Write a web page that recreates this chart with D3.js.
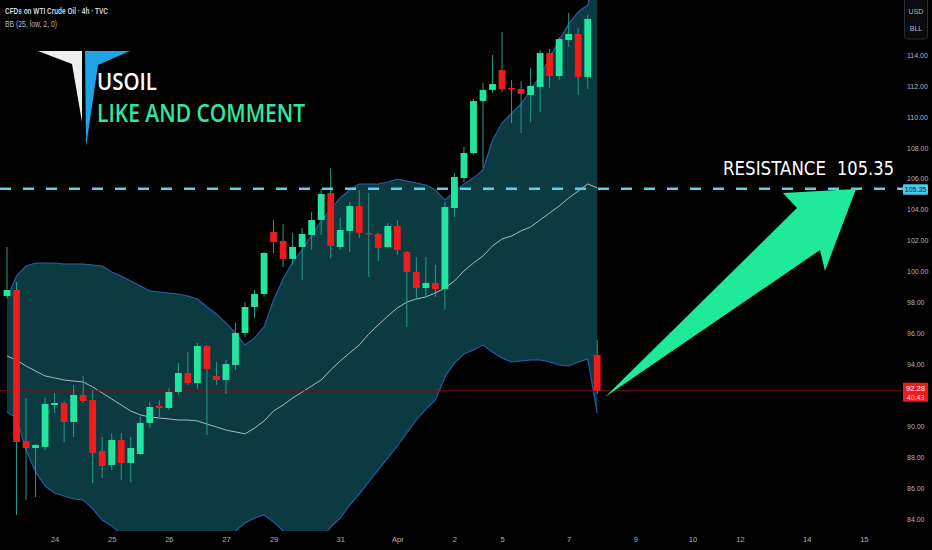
<!DOCTYPE html>
<html>
<head>
<meta charset="utf-8">
<script src="https://cdn.jsdelivr.net/npm/d3@7"></script>
<style>
  html, body { margin: 0; padding: 0; background: #000; }
  #d3-container { width: 932px; height: 550px; }
</style>
</head>
<body>
<div id="d3-container"></div>
<script>
// 4h candles, CFDs on WTI Crude Oil (TVC)
const open  = [98.41, 98.80, 89.03, 88.58, 88.65, 91.36, 91.49, 90.26, 92.01, 91.68,
               88.39, 87.48, 89.10, 87.61, 88.19, 90.20, 91.30, 91.17, 92.20, 93.43,
               92.78, 95.18, 93.24, 92.98, 93.95, 96.02, 97.70, 98.54, 102.55, 101.97,
               100.81, 101.58, 102.36, 103.33, 105.07, 101.58, 102.62, 104.23, 102.49, 102.42,
               101.58, 102.94, 101.26, 99.96, 98.93, 99.25, 98.86, 104.10, 106.04, 107.66,
               111.02, 111.74, 113.03, 111.87, 111.80, 111.41, 111.93, 114.13, 112.64, 114.97,
               115.36, 112.58, 94.60];
const high  = [101.58, 99.32, 91.81, 88.84, 91.81, 92.14, 91.62, 92.66, 93.24, 92.33,
               89.29, 89.55, 89.55, 89.29, 90.59, 91.56, 91.68, 92.46, 94.08, 94.79,
               95.37, 95.24, 94.14, 94.27, 96.67, 98.02, 98.80, 101.26, 103.33, 103.07,
               102.49, 102.81, 103.85, 105.33, 106.69, 103.46, 104.49, 105.27, 105.07, 102.49,
               103.13, 103.33, 101.32, 100.93, 100.93, 100.42, 104.49, 106.37, 108.05, 111.15,
               112.19, 114.00, 115.49, 112.38, 112.32, 113.16, 114.32, 114.39, 115.16, 116.72,
               115.75, 116.59, 95.57];
const low   = [98.28, 84.25, 85.22, 85.41, 88.45, 90.84, 88.97, 89.29, 91.49, 86.32,
               86.64, 87.16, 86.51, 86.38, 88.13, 89.87, 90.59, 91.04, 92.01, 92.66,
               92.40, 89.42, 92.66, 92.07, 93.63, 95.76, 96.99, 98.35, 101.19, 100.29,
               100.42, 99.45, 101.39, 102.36, 100.87, 101.39, 101.26, 102.16, 99.64, 100.68,
               101.52, 101.07, 96.41, 98.15, 98.35, 98.35, 97.51, 103.52, 105.79, 107.60,
               106.69, 111.54, 111.61, 109.60, 108.95, 109.67, 110.31, 111.87, 112.38, 114.52,
               111.41, 111.80, 92.10];
const close = [98.80, 88.97, 88.58, 88.77, 91.43, 91.49, 90.26, 92.01, 91.62, 88.26,
               87.42, 89.10, 87.61, 88.58, 90.20, 91.23, 91.17, 92.20, 93.43, 92.78,
               95.18, 93.69, 92.98, 94.01, 96.02, 97.70, 98.54, 101.19, 101.90, 100.81,
               101.58, 102.42, 103.33, 105.01, 101.65, 102.68, 104.23, 102.49, 102.42, 101.52,
               102.94, 101.39, 99.96, 98.93, 99.25, 98.86, 104.17, 106.11, 107.66, 111.02,
               111.74, 112.12, 111.80, 111.80, 111.48, 112.00, 114.13, 112.64, 115.03, 115.36,
               112.58, 116.33, 92.28];

// BB (25, low, 2, 0)
const bbUpper = [98.28, 99.71, 100.35, 100.55, 100.55, 100.55, 100.48, 100.48, 100.48, 100.42,
                 100.35, 99.96, 99.71, 99.38, 99.06, 98.74, 98.67, 98.61, 98.54, 98.41,
                 98.22, 97.70, 97.25, 96.67, 96.02, 95.24, 95.70, 96.41, 98.15, 99.51,
                 100.61, 101.39, 102.36, 103.26, 104.04, 104.75, 105.27, 105.66, 105.66, 105.66,
                 105.79, 105.98, 105.85, 105.72, 105.59, 105.27, 104.62, 105.14, 105.66, 106.04,
                 106.56, 108.50, 109.60, 110.25, 110.83, 111.74, 112.64, 113.81, 114.97, 116.01,
                 116.78, 117.23, 119.95];
const bbBasis = [94.53, 94.27, 93.88, 93.56, 93.24, 93.11, 92.98, 92.91, 92.85, 92.53,
                 92.14, 91.75, 91.36, 90.97, 90.72, 90.59, 90.52, 90.46, 90.39, 90.39,
                 90.33, 90.13, 89.94, 89.74, 89.62, 89.49, 89.87, 90.33, 90.97, 91.36,
                 91.81, 92.20, 92.59, 92.98, 93.63, 94.21, 94.73, 95.24, 95.95, 96.54,
                 97.12, 97.64, 98.02, 98.22, 98.35, 98.61, 98.93, 99.38, 100.03, 100.55,
                 101.00, 101.65, 102.10, 102.29, 102.62, 102.88, 103.33, 103.78, 104.23, 104.75,
                 105.20, 105.66, 105.40];
const bbLower = [90.91, 90.52, 88.45, 87.03, 86.12, 85.67, 85.48, 85.28, 85.22, 84.64,
                 83.92, 83.54, 83.02, 82.57, 82.37, 82.43, 82.37, 82.31, 82.24, 82.37,
                 82.43, 82.57, 82.63, 82.82, 83.21, 83.73, 84.05, 84.25, 83.80, 83.21,
                 82.95, 83.02, 82.82, 82.69, 83.47, 84.05, 84.89, 85.60, 86.38, 87.16,
                 87.93, 88.71, 89.55, 90.39, 91.10, 91.69, 93.17, 94.08, 94.66, 94.92,
                 95.24, 94.79, 94.40, 94.14, 94.21, 94.27, 94.27, 94.14, 93.95, 93.88,
                 94.14, 94.34, 90.84];

// 92.00 sits under the last-price tag, so it is not shown
const priceTicks = [84, 86, 88, 90, 94, 96, 98, 100, 102, 104, 106, 108, 110, 112, 114];
const dayTickIdx = [5, 11, 17, 23, 28, 35, 41, 47, 52, 59, 66, 72, 77, 84, 90];
const dayTickLabels = ["24", "25", "26", "27", "29", "31", "Apr", "2", "5", "7", "9", "10", "12", "14", "15"];

const resistance = 105.35;
const lastPrice = 92.28;
const countdown = "40:43";
// hand-drawn arrow, in (bar index, price)
const arrowPts = [[62.82, 91.88], [82.98, 104.10], [81.51, 105.07], [89.18, 105.33], [85.92, 100.03], [85.40, 101.39]];

let width = 932,
  height = 550,
  plotW = 903,
  plotH = 531;

const svg = d3.select('#d3-container')
  .append('svg')
  .attr('width', width)
  .attr('height', height)
  .style('background-color', '#000')
  .style('font-family', '"Liberation Sans", Arial, sans-serif');

svg.append('defs').append('clipPath')
  .attr('id', 'plot-clip')
  .append('rect')
  .attr('x', 0).attr('y', 0)
  .attr('width', plotW).attr('height', plotH);

const xScale = d3.scaleLinear()
  .domain([0, 90])
  .range([7, 7 + 90 * 9.52]);

const yScale = d3.scaleLinear()
  .domain([84, 114])
  .range([518.8, 55]);

const idx = d3.range(open.length);
const plot = svg.append('g').attr('clip-path', 'url(#plot-clip)');

// bollinger band fill + lines
plot.append('path')
  .datum(idx)
  .attr('fill', '#0b3a41')
  .attr('d', d3.area()
    .x(i => xScale(i))
    .y0(i => yScale(bbLower[i]))
    .y1(i => yScale(bbUpper[i])));

[bbUpper, bbLower].forEach(series => {
  plot.append('path')
    .datum(idx)
    .attr('fill', 'none')
    .attr('stroke', '#2b5cab')
    .attr('stroke-width', 1.1)
    .attr('d', d3.line().x(i => xScale(i)).y(i => yScale(series[i])));
});

plot.append('path')
  .datum(idx)
  .attr('fill', 'none')
  .attr('stroke', '#a9bcc4')
  .attr('stroke-width', 1)
  .attr('d', d3.line().x(i => xScale(i)).y(i => yScale(bbBasis[i])));

// last price line
plot.append('line')
  .attr('x1', 0).attr('x2', plotW)
  .attr('y1', yScale(lastPrice)).attr('y2', yScale(lastPrice))
  .attr('stroke', '#7e1212')
  .attr('stroke-width', 1);

// candles
const candle = plot.selectAll('g.candle')
  .data(idx)
  .enter().append('g')
  .attr('class', 'candle');

candle.append('line')
  .attr('x1', i => xScale(i)).attr('x2', i => xScale(i))
  .attr('y1', i => yScale(high[i])).attr('y2', i => yScale(low[i]))
  .attr('stroke', '#249c8e')
  .attr('stroke-width', 1);

candle.append('rect')
  .attr('x', i => xScale(i) - 3.4)
  .attr('width', 6.8)
  .attr('y', i => yScale(Math.max(open[i], close[i])))
  .attr('height', i => Math.max(1.5, Math.abs(yScale(open[i]) - yScale(close[i]))))
  .attr('fill', i => close[i] >= open[i] ? '#22e6a0' : '#ee1c1c');

// resistance line
plot.append('line')
  .attr('x1', 0).attr('x2', plotW)
  .attr('y1', yScale(resistance)).attr('y2', yScale(resistance))
  .attr('stroke', '#56d3ea')
  .attr('stroke-width', 2.4)
  .attr('stroke-dasharray', '11,12');

// arrow
plot.append('polygon')
  .attr('points', arrowPts.map(p => [xScale(p[0]), yScale(p[1])].join(',')).join(' '))
  .attr('fill', '#1fea9c');

const resText = svg.append('text')
  .attr('y', 175)
  .attr('fill', '#fff')
  .attr('font-family', '"DejaVu Sans", sans-serif')
  .attr('font-size', 19);
resText.append('tspan')
  .attr('x', 723)
  .attr('textLength', 103)
  .attr('lengthAdjust', 'spacingAndGlyphs')
  .text('RESISTANCE');
resText.append('tspan')
  .attr('x', 837)
  .attr('textLength', 57)
  .attr('lengthAdjust', 'spacingAndGlyphs')
  .text(resistance.toFixed(2));

// price axis
const yAxis = svg.append('g')
  .attr('transform', `translate(${plotW + 1},0)`)
  .call(d3.axisRight(yScale).tickValues(priceTicks).tickSize(0).tickPadding(3).tickFormat(d3.format('.2f')));
yAxis.select('.domain').remove();
yAxis.selectAll('text')
  .attr('fill', '#b2b5be')
  .attr('font-size', 7)
  .attr('font-family', '"Liberation Sans", Arial, sans-serif');

// time axis
const xAxis = svg.append('g')
  .attr('transform', `translate(0,${plotH + 4})`)
  .call(d3.axisBottom(xScale).tickValues(dayTickIdx).tickSize(0).tickPadding(2)
    .tickFormat((d, i) => dayTickLabels[i]));
xAxis.select('.domain').remove();
xAxis.selectAll('text')
  .attr('fill', '#b2b5be')
  .attr('font-size', 7.5)
  .attr('font-family', '"Liberation Sans", Arial, sans-serif');

// price tags on the axis
svg.append('rect')
  .attr('x', 903).attr('y', yScale(resistance) - 4.5)
  .attr('width', 25).attr('height', 10.5)
  .attr('rx', 1)
  .attr('fill', '#4cc6ea');
svg.append('text')
  .attr('x', 915.5).attr('y', yScale(resistance) + 3.5)
  .attr('text-anchor', 'middle')
  .attr('font-size', 7)
  .attr('fill', '#0a2a35')
  .text(resistance.toFixed(2));

svg.append('rect')
  .attr('x', 903).attr('y', yScale(lastPrice) - 8)
  .attr('width', 25).attr('height', 19)
  .attr('rx', 1)
  .attr('fill', '#ef1b1b');
svg.append('text')
  .attr('x', 915.5).attr('y', yScale(lastPrice) + 0.3)
  .attr('text-anchor', 'middle')
  .attr('font-size', 7.5)
  .attr('fill', '#fff')
  .text(lastPrice.toFixed(2));
svg.append('text')
  .attr('x', 915.5).attr('y', yScale(lastPrice) + 9)
  .attr('text-anchor', 'middle')
  .attr('font-size', 7)
  .attr('fill', '#ffd0d0')
  .text(countdown);

// currency / unit box
svg.append('rect')
  .attr('x', 904.5).attr('y', -4)
  .attr('width', 23).attr('height', 43)
  .attr('rx', 3)
  .attr('fill', '#0b0b0d')
  .attr('stroke', '#2a2e39');
svg.append('text').attr('x', 916).attr('y', 14).attr('text-anchor', 'middle')
  .attr('font-size', 7).attr('fill', '#b2b5be').text('USD');
svg.append('text').attr('x', 916).attr('y', 31).attr('text-anchor', 'middle')
  .attr('font-size', 7).attr('fill', '#b2b5be').text('BLL');

// header
svg.append('text')
  .attr('x', 5).attr('y', 14)
  .attr('font-size', 8.5)
  .attr('font-weight', 'bold')
  .attr('fill', '#d1d4dc')
  .attr('textLength', 103)
  .attr('lengthAdjust', 'spacingAndGlyphs')
  .text('CFDs on WTI Crude Oil · 4h · TVC');
svg.append('text')
  .attr('x', 5).attr('y', 27)
  .attr('font-size', 8.5)
  .attr('fill', '#b2b5be')
  .attr('textLength', 52)
  .attr('lengthAdjust', 'spacingAndGlyphs')
  .text('BB (25, low, 2, 0)');

// logo
svg.append('polygon')
  .attr('points', '38,51 82,51 82,122 72,64')
  .attr('fill', '#eeeeee');
svg.append('polygon')
  .attr('points', '85,51 130,51 98,65 86,147')
  .attr('fill', '#1ea3e6');

svg.append('text')
  .attr('x', 97).attr('y', 90)
  .attr('font-family', '"Open Sans", sans-serif')
  .attr('font-size', 23)
  .attr('font-weight', 600)
  .attr('fill', '#fff')
  .attr('textLength', 60)
  .attr('lengthAdjust', 'spacingAndGlyphs')
  .text('USOIL');
svg.append('text')
  .attr('x', 97).attr('y', 122)
  .attr('font-family', '"Open Sans", sans-serif')
  .attr('font-size', 26)
  .attr('font-weight', 600)
  .attr('fill', '#2ee8a2')
  .attr('textLength', 208)
  .attr('lengthAdjust', 'spacingAndGlyphs')
  .text('LIKE AND COMMENT');
</script>
</body>
</html>
